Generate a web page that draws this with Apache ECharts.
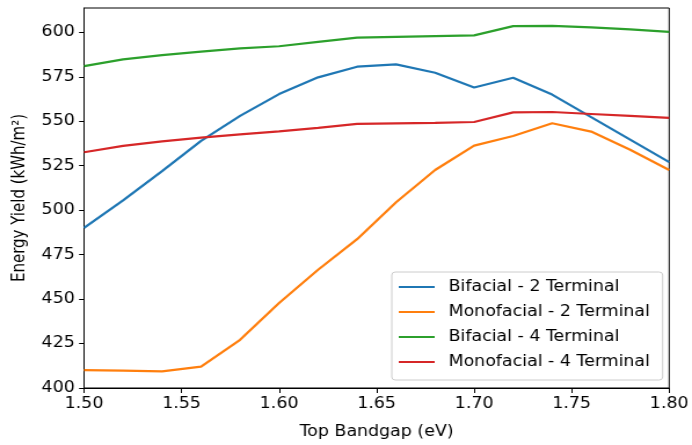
<!DOCTYPE html>
<html>
<head>
<meta charset="utf-8">
<script src="https://cdn.jsdelivr.net/npm/echarts@6/dist/echarts.min.js"></script>
<style>
  html, body { margin: 0; padding: 0; background: #fff; overflow: hidden; }
  /* the reference is stretched sideways (~1.16x), so the chart is drawn narrower and scaled */
  #chart { width: 597px; height: 445px; transform: scaleX(1.1591); transform-origin: 0 0; }
</style>
</head>
<body>
<div id="chart"></div>
<script>
// top bandgap (eV)
const bandgaps = [1.50, 1.52, 1.54, 1.56, 1.58, 1.60, 1.62, 1.64, 1.66, 1.68, 1.70, 1.72, 1.74, 1.76, 1.78, 1.80]
// energy yield (kWh/m²) per configuration
const bifacial2T = [490, 505.5, 522, 539, 553, 565.3, 574.7, 580.7, 582, 577.3, 569, 574.5, 565, 552.3, 539.7, 527]
const monofacial2T = [410.1, 409.8, 409.3, 412, 427.1, 447.8, 466.5, 483.7, 504.5, 522.6, 536.3, 541.7, 548.9, 544.2, 534, 522.6]
const bifacial4T = [581, 584.8, 587.2, 589.2, 591, 592.2, 594.7, 597, 597.5, 597.9, 598.3, 603.5, 603.7, 602.8, 601.7, 600.3]
const monofacial4T = [532.6, 536.2, 538.7, 540.8, 542.6, 544.3, 546.3, 548.5, 548.8, 549.1, 549.6, 555, 555.2, 554.1, 553, 551.9]
const xTicks = [1.50, 1.55, 1.60, 1.65, 1.70, 1.75, 1.80]
const yTicks = [400, 425, 450, 475, 500, 525, 550, 575, 600]

const seriesNames = ['Bifacial - 2 Terminal', 'Monofacial - 2 Terminal', 'Bifacial - 4 Terminal', 'Monofacial - 4 Terminal']
const seriesData = [bifacial2T, monofacial2T, bifacial4T, monofacial4T]
const colors = ['#1f77b4', '#ff7f0e', '#2ca02c', '#d62728']

const font = 'DejaVu Sans'

let chart = echarts.init(document.getElementById('chart'))

chart.setOption({
    animation: false,
    textStyle: { fontFamily: font },
    grid: {
        left: 72.5,
        right: 19,
        top: 8,
        bottom: 57,
        show: true,
        borderColor: '#000',
        borderWidth: 1
    },
    legend: {
        orient: 'vertical',
        left: 338,
        top: 272,
        icon: 'rect',
        itemWidth: 31,
        itemHeight: 2,
        itemGap: 7,
        padding: [6, 11, 9, 6],
        borderColor: '#cccccc',
        borderWidth: 1,
        borderRadius: 3,
        backgroundColor: 'rgba(255,255,255,0.8)',
        data: seriesNames,
        textStyle: {
            fontFamily: font,
            fontSize: 15,
            color: '#000',
            lineHeight: 18,
            padding: [0, 0, 0, 7]
        }
    },
    xAxis: {
        type: 'value',
        min: 1.50,
        max: 1.80,
        interval: 0.05,
        name: 'Top Bandgap (eV)',
        nameLocation: 'middle',
        nameGap: 37,
        nameTextStyle: { fontFamily: font, fontSize: 15, color: '#000' },
        axisLine: { show: true, lineStyle: { color: '#000', width: 1 } },
        axisTick: { show: true, length: 5, lineStyle: { color: '#000' }, customValues: xTicks },
        axisLabel: {
            fontFamily: font, fontSize: 15, color: '#000', margin: 9,
            customValues: xTicks,
            formatter: v => v.toFixed(2)
        },
        splitLine: { show: false }
    },
    yAxis: {
        type: 'value',
        min: 400,
        max: 613.7,
        name: 'Energy Yield (kWh/m²)',
        nameLocation: 'middle',
        nameGap: 42,
        nameTextStyle: { fontFamily: font, fontSize: 15, color: '#000' },
        axisLine: { show: true, lineStyle: { color: '#000', width: 1 } },
        axisTick: { show: true, length: 4.3, lineStyle: { color: '#000' }, customValues: yTicks },
        axisLabel: {
            fontFamily: font, fontSize: 15, color: '#000', margin: 8,
            customValues: yTicks
        },
        splitLine: { show: false }
    },
    series: seriesNames.map((name, i) => ({
        name: name,
        type: 'line',
        showSymbol: false,
        symbol: 'none',
        color: colors[i],
        lineStyle: { width: 2.2, color: colors[i] },
        data: bandgaps.map((x, j) => [x, seriesData[i][j]])
    }))
})
</script>
</body>
</html>
